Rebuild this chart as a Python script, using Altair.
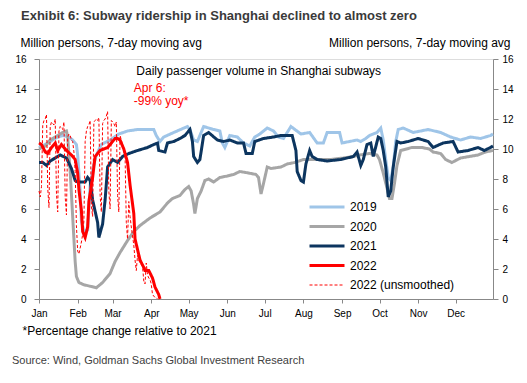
import altair as alt
import pandas as pd

TITLE = "Exhibit 6: Subway ridership in Shanghai declined to almost zero"
Y_TITLE = "Million persons, 7-day moving avg"
FOOTNOTE = "*Percentage change relative to 2021"
SOURCE = "Source: Wind, Goldman Sachs Global Investment Research"
NOTE_MAIN = "Daily passenger volume in Shanghai subways"
NOTE_RED1 = "Apr 6:"
NOTE_RED2 = "-99% yoy*"

SERIES = ["2019", "2020", "2021", "2022", "2022 (unsmoothed)"]
COLORS = ["#9fc5e8", "#a6a6a6", "#0c355f", "#ff0000", "#ff0000"]
DASHES = [[1, 0], [1, 0], [1, 0], [1, 0], [3, 2]]
WIDTHS = [3, 3, 3, 3, 1]

# day-of-year / value pairs
DOY_2019 = [1, 8, 16, 20, 25, 28, 31, 32, 34, 35, 37, 40, 41, 42, 45, 47, 51, 58, 65, 72, 80, 88, 93, 95, 98, 101,
            109, 120, 122, 125, 128, 130, 133, 141, 146, 148, 150, 154, 160, 165, 170, 174, 178, 184, 189, 193, 197,
            203, 211, 218, 224, 229, 232, 242, 244, 250, 256, 259, 263, 266, 272, 275, 277, 279, 281, 283, 285, 287,
            289, 293, 301, 313, 323, 331, 339, 347, 355, 363, 365]
VAL_2019 = [10.1, 10.4, 10.8, 10.9, 10.8, 10.6, 10.3, 9.6, 7.2, 5.2, 4.5, 4.6, 6.0, 7.6, 9.0, 9.6, 10.3, 10.6, 11.0,
            11.2, 11.3, 11.3, 11.3, 10.9, 10.5, 10.8, 11.1, 11.5, 11.3, 10.6, 10.5, 10.9, 11.5, 11.3, 11.2, 10.4, 10.1,
            10.9, 10.8, 10.4, 10.2, 10.8, 11.0, 11.4, 11.2, 10.8, 10.7, 11.5, 11.0, 11.1, 10.4, 10.4, 11.1, 11.1, 10.4,
            10.5, 10.6, 10.5, 10.7, 10.9, 11.1, 11.4, 10.6, 9.3, 8.1, 7.9, 8.8, 10.5, 11.3, 11.4, 11.1, 11.3, 11.1,
            10.8, 10.6, 10.8, 10.7, 10.9, 11.0]

DOY_2020 = [1, 6, 10, 16, 20, 23, 24, 26, 28, 29, 30, 31, 33, 37, 42, 47, 52, 58, 62, 66, 72, 77, 82, 90, 98, 104,
            108, 114, 118, 121, 123, 125, 126, 128, 131, 134, 137, 141, 146, 152, 157, 162, 169, 175, 177, 179, 181,
            184, 187, 195, 200, 206, 213, 225, 235, 245, 253, 258, 266, 272, 274, 277, 280, 282, 284, 286, 288, 291,
            300, 308, 314, 317, 323, 327, 332, 339, 346, 353, 359, 365]
VAL_2020 = [10.0, 10.2, 10.6, 10.9, 11.1, 11.2, 10.8, 8.5, 5.5, 4.0, 2.5, 1.5, 1.1, 0.95, 0.85, 0.75, 1.1, 1.7, 2.5,
            3.1, 3.9, 4.5, 4.9, 5.4, 5.8, 6.4, 6.7, 6.9, 7.3, 7.5, 7.2, 6.3, 5.7, 6.7, 7.2, 7.9, 8.0, 7.8, 8.1, 8.2,
            8.3, 8.5, 8.4, 8.3, 8.1, 7.0, 7.7, 8.8, 8.7, 8.8, 9.0, 9.1, 9.3, 9.3, 9.3, 9.4, 9.5, 9.6, 9.7, 9.6, 9.3,
            8.4, 7.4, 6.7, 6.7, 7.7, 8.9, 9.9, 10.1, 10.1, 10.0, 9.8, 9.7, 9.3, 9.1, 9.4, 9.5, 9.6, 9.8, 9.9]

DOY_2021 = [1, 4, 7, 10, 14, 18, 23, 27, 30, 32, 38, 40, 42, 44, 48, 49, 52, 54, 56, 60, 64, 68, 73, 80, 88, 93, 96,
            97, 102, 104, 109, 114, 118, 122, 124, 125, 128, 130, 133, 137, 144, 149, 154, 160, 165, 167, 172, 174,
            181, 189, 195, 204, 207, 208, 211, 213, 215, 218, 220, 224, 232, 243, 253, 256, 259, 261, 264, 267, 269,
            273, 275, 277, 279, 281, 283, 285, 288, 291, 297, 305, 313, 317, 325, 333, 337, 345, 353, 358, 363, 365]
VAL_2021 = [9.1, 9.1, 8.9, 9.2, 9.4, 9.6, 9.4, 8.7, 7.9, 7.8, 7.8, 8.1, 7.9, 6.6, 5.1, 4.1, 5.0, 6.6, 8.8, 9.3, 9.1,
            9.5, 9.7, 9.9, 10.1, 10.3, 10.4, 9.9, 9.8, 10.4, 10.5, 10.7, 10.9, 11.3, 10.5, 9.5, 9.1, 9.3, 10.9, 11.1,
            10.6, 10.5, 10.6, 10.4, 10.4, 9.7, 9.7, 10.5, 10.7, 10.8, 10.9, 10.9, 9.9, 8.5, 7.9, 7.8, 9.0, 9.9, 9.5,
            9.3, 9.2, 9.3, 9.5, 9.8, 8.9, 9.3, 10.3, 10.4, 9.5, 10.8, 10.7, 9.9, 8.8, 6.8, 7.2, 8.8, 10.5, 10.4, 10.5,
            10.7, 10.5, 10.1, 10.4, 10.5, 9.8, 9.9, 10.1, 9.9, 10.1, 10.2]

DOY_2022 = [1, 3, 6, 8, 11, 14, 16, 19, 23, 27, 30, 32, 33, 35, 36, 38, 40, 41, 44, 46, 50, 56, 60, 62, 64, 66, 69,
            72, 74, 77, 78, 80, 82, 85, 86, 89, 92, 94, 97, 98]
VAL_2022 = [10.4, 10.3, 9.8, 9.7, 10.1, 10.4, 9.9, 10.3, 9.9, 9.6, 9.3, 8.4, 7.3, 5.9, 4.5, 4.1, 4.8, 6.5, 8.1, 9.5,
            9.9, 10.1, 10.5, 10.7, 10.7, 10.6, 10.0, 9.1, 7.6, 5.7, 4.0, 3.3, 2.6, 2.1, 1.9, 1.9, 1.4, 0.8, 0.3, 0.0]

# daily values from Jan 1 2022 to Apr 6 2022
UNSMOOTHED_2022 = [
    7.2, 6.8, 7.5, 11.6, 11.9, 12.0, 12.3, 7.4, 6.1, 11.5, 11.8, 11.7, 11.6, 12.0, 7.0, 5.8, 11.2, 11.5, 11.4, 11.3,
    11.8, 6.8, 5.6, 10.8, 11.0, 10.9, 10.6, 10.5, 9.8, 8.5, 4.9,
    3.2, 3.0, 3.4, 3.8, 4.3, 5.2, 10.5, 11.2, 11.5, 11.6, 11.9, 6.2, 5.5, 11.8, 11.9, 12.0, 11.9, 12.1, 6.9, 5.8,
    11.7, 11.9, 12.0, 12.2, 12.5, 7.2, 6.0, 11.9,
    11.8, 11.7, 11.5, 11.8, 6.9, 5.8, 10.9, 10.6, 10.2, 9.8, 9.6, 5.1, 4.0, 6.5, 5.5, 4.8, 4.2, 3.6, 2.6, 1.9,
    2.9, 2.6, 2.4, 2.3, 2.2, 1.2, 1.0, 2.4, 1.6, 1.4, 1.3,
    1.0, 0.3, 0.2, 0.1, 0.05, 0.04,
]

BASE = pd.Timestamp("2021-01-01")


def frame(name, doys, vals):
    return pd.DataFrame({
        "series": name,
        "date": [BASE + pd.Timedelta(days=d - 1) for d in doys],
        "value": vals,
    })


df = pd.concat([
    frame("2019", DOY_2019, VAL_2019),
    frame("2020", DOY_2020, VAL_2020),
    frame("2021", DOY_2021, VAL_2021),
    frame("2022 (unsmoothed)", list(range(1, len(UNSMOOTHED_2022) + 1)), UNSMOOTHED_2022),
    frame("2022", DOY_2022, VAL_2022),
], ignore_index=True)

notes = pd.DataFrame({
    "text": [NOTE_MAIN, NOTE_RED1, NOTE_RED2],
    "date": [BASE + pd.Timedelta(days=78), BASE + pd.Timedelta(days=76), BASE + pd.Timedelta(days=76)],
    "value": [14.95, 13.8, 12.93],
    "kind": ["main", "red", "red"],
})

FONT = "Liberation Sans"
AXIS_GRAY = "#a6a6a6"

x_domain = [alt.DateTime(year=2021, month=1, date=1), alt.DateTime(year=2021, month=12, date=31)]
month_ticks = [alt.DateTime(year=2021, month=m, date=1) for m in range(1, 13)]
x_scale = alt.Scale(domain=x_domain)
y_scale = alt.Scale(domain=[0, 16])

x_axis = alt.Axis(format="%b", values=month_ticks, labelFlush=False, grid=False,
                  tickSize=4, labelPadding=5, title=FOOTNOTE, titleX=-17, titleY=35, titleAlign="left",
                  titleBaseline="alphabetic", titleFontWeight="normal", titleFontSize=12, titleColor="black")
y_left = alt.Axis(orient="left", values=list(range(0, 17, 2)), grid=False, tickSize=5, labelPadding=8,
                  title=Y_TITLE, titleAngle=0, titleAlign="left", titleBaseline="alphabetic",
                  titleFontWeight="normal", titleFontSize=12, titleColor="black",
                  titleX=-19, titleY=-13)
y_right = alt.Axis(orient="right", values=list(range(0, 17, 2)), grid=False, tickSize=5, labelPadding=4,
                   title=Y_TITLE, titleAngle=0, titleAlign="right", titleBaseline="alphabetic",
                   titleFontWeight="normal", titleFontSize=12, titleColor="black",
                   titleX=17, titleY=-13)

legend = alt.Legend(title=None, orient="none", legendX=269, legendY=142, symbolType="stroke",
                    symbolSize=1225, clipHeight=12, rowPadding=7.5, labelOffset=4, labelFontSize=12,
                    labelFont=FONT, labelColor="black")

enc_common = dict(
    color=alt.Color("series:N", scale=alt.Scale(domain=SERIES, range=COLORS), legend=legend),
    strokeDash=alt.StrokeDash("series:N", scale=alt.Scale(domain=SERIES, range=DASHES), legend=legend),
    strokeWidth=alt.StrokeWidth("series:N", scale=alt.Scale(type="ordinal", domain=SERIES, range=WIDTHS),
                                legend=legend),
)

layers = []
order = ["2019", "2020", "2021", "2022 (unsmoothed)", "2022"]
for i, s in enumerate(order):
    if i == 0:
        ya = y_left
    elif s == "2022":
        ya = y_right
    else:
        ya = None
    layer = alt.Chart(df).transform_filter(alt.datum.series == s).mark_line(interpolate="linear").encode(
        x=alt.X("date:T", scale=x_scale, axis=x_axis),
        y=alt.Y("value:Q", scale=y_scale, axis=ya),
        **enc_common,
    )
    layers.append(layer)

text_main = alt.Chart(notes).transform_filter(alt.datum.kind == "main").mark_text(
    align="left", baseline="alphabetic", font=FONT, fontSize=12, color="black"
).encode(x=alt.X("date:T", scale=x_scale, axis=x_axis), y=alt.Y("value:Q", scale=y_scale, axis=None),
         text="text:N")

text_red = alt.Chart(notes).transform_filter(alt.datum.kind == "red").mark_text(
    align="left", baseline="alphabetic", font=FONT, fontSize=12, color="#ff0000"
).encode(x=alt.X("date:T", scale=x_scale, axis=x_axis), y=alt.Y("value:Q", scale=y_scale, axis=None),
         text="text:N")

source = alt.Chart(pd.DataFrame({"text": [SOURCE]})).mark_text(
    align="left", baseline="alphabetic", font=FONT, fontSize=11, color="#404040"
).encode(x=alt.value(-27), y=alt.value(305), text="text:N")

chart = alt.layer(*layers, text_main, text_red, source).properties(
    width=454, height=240,
    autosize=alt.AutoSizeParams(type="none"),
    padding={"left": 31, "top": 51, "right": 25, "bottom": 70},
    title=alt.TitleParams(text=TITLE, anchor="start", fontSize=13, fontWeight="bold", font=FONT,
                          color="#3a3a3a", dx=9, dy=-9),
).configure_view(stroke=AXIS_GRAY, strokeWidth=1).configure_axis(
    domainColor=AXIS_GRAY, tickColor=AXIS_GRAY, labelColor="black", labelFont=FONT, labelFontSize=12,
    titleFont=FONT, titleFontSize=12, titleFontWeight="normal", titleColor="black"
).configure(background="white")

chart.save("out.html", embed_options={"renderer": "svg", "actions": False})
